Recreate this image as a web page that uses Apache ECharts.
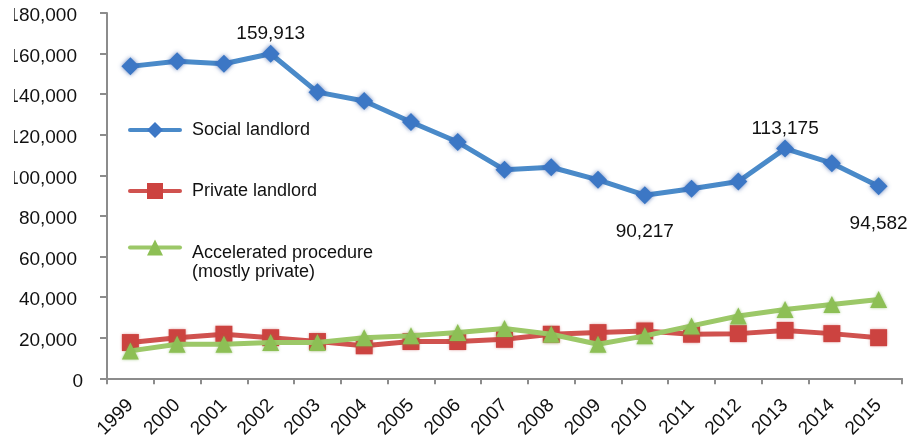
<!DOCTYPE html>
<html>
<head>
<meta charset="utf-8">
<script src="https://cdn.jsdelivr.net/npm/echarts@6/dist/echarts.min.js"></script>
<style>
  html, body { margin: 0; padding: 0; background: #ffffff; }
  #chart { width: 923px; height: 441px; clip-path: inset(0 0 0 14px); }
</style>
</head>
<body>
<div id="chart"></div>
<script>
// Possession claims by type of claimant, 1999–2015
const years = ['1999', '2000', '2001', '2002', '2003', '2004', '2005', '2006', '2007',
               '2008', '2009', '2010', '2011', '2012', '2013', '2014', '2015'];

const socialLandlord = [153700, 156200, 155000, 159913, 141000, 136600, 126300, 116400, 102700,
                        104000, 97800, 90217, 93400, 97000, 113175, 106000, 94582];

const privateLandlord = [17600, 20000, 21700, 20000, 18100, 16000, 18100, 18100, 19200,
                         21700, 22500, 23300, 21700, 22000, 23600, 22000, 20000];

const acceleratedProcedure = [13500, 16800, 16800, 17600, 17600, 20000, 20900, 22500, 24500,
                              21700, 16800, 20900, 25800, 30700, 33900, 36300, 38800];

const seriesNames = ['Social landlord', 'Private landlord', 'Accelerated procedure (mostly private)'];

// value axis range
const yMin = 0;
const yMax = 180000;
const yStep = 20000;

// points of the social landlord line that carry a value label
const labelsAbove = [3, 14];
const labelsBelow = [11, 16];

const FONT = '"Liberation Sans", Arial, Helvetica, sans-serif';
const fmt = v => v.toLocaleString('en-US');

const socialData = socialLandlord.map((v, i) => {
  if (labelsAbove.includes(i)) {
    return { value: v, label: { show: true, position: 'top', distance: 1 } };
  }
  if (labelsBelow.includes(i)) {
    return { value: v, label: { show: true, position: 'bottom', distance: i === 16 ? 19 : 18 } };
  }
  return v;
});

const chart = echarts.init(document.getElementById('chart'), null, { renderer: 'canvas' });

const legendBase = {
  orient: 'vertical',
  padding: 0,
  itemWidth: 50,
  itemHeight: 20,
  selectedMode: false,
  lineStyle: { width: 4, cap: 'round' },
  textStyle: { fontSize: 18, color: '#111', fontFamily: FONT, padding: [0, 0, 0, 7] }
};

chart.setOption({
  animation: false,
  backgroundColor: '#ffffff',
  textStyle: { fontFamily: FONT },
  grid: { left: 107, right: 21, top: 13, bottom: 60, containLabel: false },
  legend: [
    Object.assign({}, legendBase, { data: [seriesNames[0]], left: 128, top: 121 }),
    Object.assign({}, legendBase, { data: [seriesNames[1]], left: 128, top: 182 }),
    Object.assign({}, legendBase, {
      data: [seriesNames[2]], left: 128, top: 213,
      // two-line label whose first line sits level with the icon
      formatter: name => '{sp| }\n{t|' + name.replace(' (', '}\n{t|(') + '}',
      textStyle: {
        fontSize: 18, color: '#111', fontFamily: FONT,
        rich: {
          sp: { height: 31, lineHeight: 31, fontSize: 2, padding: [0, 0, 0, 7] },
          t: { fontSize: 18, color: '#111', fontFamily: FONT, lineHeight: 19, padding: [0, 0, 0, 7] }
        }
      }
    })
  ],
  xAxis: {
    type: 'category',
    data: years,
    boundaryGap: true,
    axisLine: { show: true, lineStyle: { color: '#8c8c8c', width: 2 } },
    axisTick: { show: true, length: 6, interval: 0, lineStyle: { color: '#8c8c8c', width: 2 } },
    axisLabel: { rotate: 45, margin: 24, interval: 0, fontSize: 19, color: '#111', fontFamily: FONT },
    splitLine: { show: false }
  },
  yAxis: {
    type: 'value',
    min: yMin,
    max: yMax,
    interval: yStep,
    axisLine: { show: true, lineStyle: { color: '#8c8c8c', width: 2 } },
    axisTick: { show: true, length: 7, lineStyle: { color: '#8c8c8c', width: 2 } },
    splitLine: { show: false },
    axisLabel: {
      margin: 24,
      fontSize: 19,
      color: '#111',
      fontFamily: FONT,
      formatter: v => (v === 0 ? '{z|0}' : '{n|' + fmt(v) + '}'),
      rich: {
        n: { fontSize: 19, color: '#111', fontFamily: FONT, padding: [6, 6, 0, 0] },
        z: { fontSize: 19, color: '#111', fontFamily: FONT, padding: [6, 0, 0, 0] }
      }
    }
  },
  series: [
    {
      name: seriesNames[1],
      type: 'line',
      data: privateLandlord,
      symbol: 'rect',
      symbolSize: 17,
      z: 2,
      lineStyle: { color: '#d0524f', width: 5 },
      itemStyle: { color: '#cc4340', shadowBlur: 3, shadowColor: 'rgba(190,50,50,0.6)' },
      emphasis: { disabled: true }
    },
    {
      name: seriesNames[2],
      type: 'line',
      data: acceleratedProcedure,
      symbol: 'triangle',
      symbolSize: 17,
      z: 3,
      lineStyle: { color: '#9cc868', width: 5 },
      itemStyle: { color: '#8dbf55', shadowBlur: 3, shadowColor: 'rgba(110,170,60,0.6)' },
      emphasis: { disabled: true }
    },
    {
      name: seriesNames[0],
      type: 'line',
      data: socialData,
      symbol: 'diamond',
      symbolSize: 18,
      z: 4,
      lineStyle: { color: '#4a8ac9', width: 5 },
      itemStyle: { color: '#3c77c5', shadowBlur: 4, shadowColor: 'rgba(40,80,160,0.7)' },
      label: { show: false, fontSize: 19, color: '#111', fontFamily: FONT, formatter: p => fmt(p.value) },
      emphasis: { disabled: true }
    }
  ]
});
</script>
</body>
</html>
